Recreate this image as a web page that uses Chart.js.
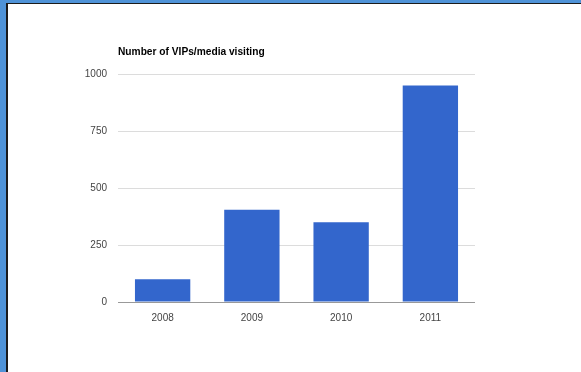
<!DOCTYPE html>
<html>
<head>
<meta charset="utf-8">
<script src="https://cdn.jsdelivr.net/npm/chart.js@4"></script>
<style>
  html, body { margin: 0; padding: 0; background: #fff; }
  #frame { position: absolute; left: 0; top: 0; width: 575px; height: 369px;
           padding: 3px 0 0 6px; background: #4f93d8; }
  #inner { width: 573px; height: 368px; background: #fff;
           border-left: 2px solid #1b1b1b; border-top: 1px solid #1b1b1b; }
  canvas { display: block; }
</style>
</head>
<body>
<div id="frame"><div id="inner"><canvas id="chart" width="573" height="368"></canvas></div></div>
<script>
const years = ["2008", "2009", "2010", "2011"];
const visitors = [100, 405, 350, 950];
const yTicks = [0, 250, 500, 750, 1000];
const chartTitle = "Number of VIPs/media visiting";

// draw the title above the plot, left aligned with the chart area
const titlePlugin = {
    id: "leftTitle",
    afterDraw(chart) {
        const ctx = chart.ctx;
        ctx.save();
        ctx.font = "bold 10.2px 'Liberation Sans', Arial, sans-serif";
        ctx.fillStyle = "#000";
        ctx.textAlign = "left";
        ctx.textBaseline = "middle";
        ctx.fillText(chartTitle, chart.chartArea.left, chart.chartArea.top - 22);
        ctx.restore();
    }
};

Chart.defaults.font.family = "'Liberation Sans', Arial, sans-serif";
Chart.defaults.font.size = 10;
Chart.defaults.color = "#444";

new Chart(document.getElementById("chart"), {
    type: "bar",
    data: {
        labels: years,
        datasets: [{
            data: visitors,
            backgroundColor: "#3366cc",
            barPercentage: 0.62,
            categoryPercentage: 1.0
        }]
    },
    options: {
        responsive: false,
        animation: false,
        layout: { padding: { left: 0, right: 106, top: 70, bottom: 40 } },
        plugins: { legend: { display: false }, tooltip: { enabled: false } },
        scales: {
            x: {
                grid: { display: false },
                border: { display: false },
                ticks: { padding: 2, color: "#444" },
                afterFit(scale) { scale.height = 30; }
            },
            y: {
                min: 0,
                max: 1000,
                afterBuildTicks(scale) { scale.ticks = yTicks.map(v => ({ value: v })); },
                grid: {
                    drawTicks: false,
                    color: c => c.tick && c.tick.value === 0 ? "#999" : "#dcdcdc"
                },
                border: { display: false },
                ticks: { padding: 11, color: "#444", callback: v => String(v) },
                afterFit(scale) { scale.width = 110; }
            }
        }
    },
    plugins: [titlePlugin]
});
</script>
</body>
</html>
